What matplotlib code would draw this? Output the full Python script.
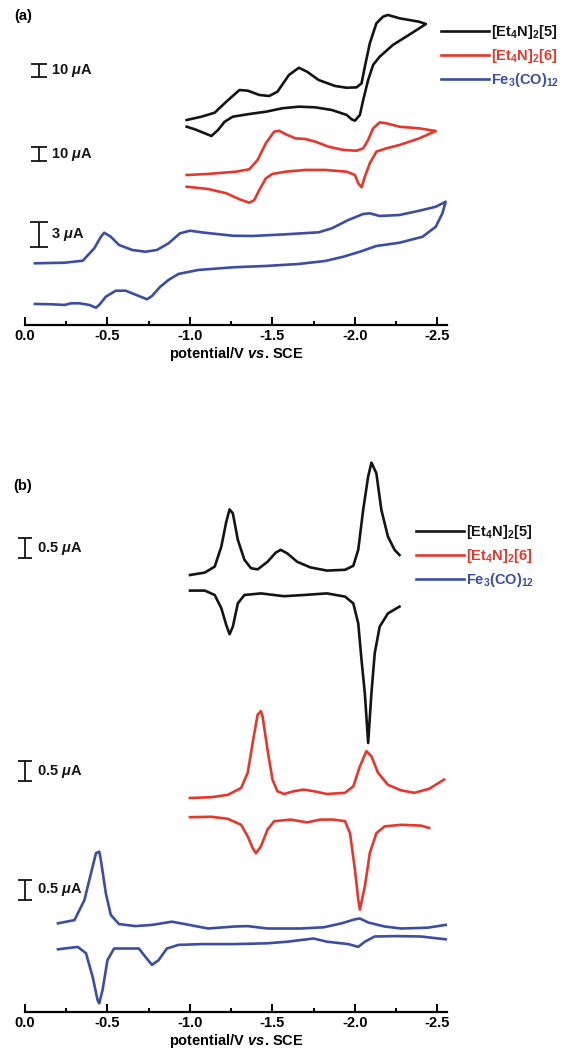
import matplotlib
matplotlib.use("Agg")
import matplotlib.pyplot as plt
from matplotlib.ticker import MultipleLocator, FuncFormatter

plt.rcParams['font.family'] = ['Liberation Sans', 'DejaVu Sans']
plt.rcParams['font.weight'] = 'bold'
plt.rcParams['axes.labelweight'] = 'bold'
plt.rcParams['mathtext.fontset'] = 'custom'
plt.rcParams['mathtext.rm'] = 'Liberation Sans:bold'
plt.rcParams['mathtext.it'] = 'Liberation Sans:italic:bold'
plt.rcParams['mathtext.bf'] = 'Liberation Sans:bold'
plt.rcParams['axes.unicode_minus'] = False

# ---- (a) cyclic voltammograms: potential (V vs SCE), current (uA)
a5_E = [-0.98, -1.07, -1.15, -1.22, -1.30, -1.35, -1.42, -1.48, -1.53, -1.60, -1.66, -1.71, -1.78,
        -1.88, -1.95, -2.01, -2.04, -2.06, -2.09, -2.13, -2.17, -2.20, -2.27, -2.39, -2.43,
        -2.39, -2.31, -2.23, -2.15, -2.11, -2.08, -2.05, -2.03, -2.00, -1.98, -1.95, -1.86,
        -1.76, -1.66, -1.56, -1.46, -1.36, -1.26, -1.21, -1.17, -1.13, -1.09, -1.03, -0.98]
a5_I = [0, 2.5, 5.5, 13.7, 22.5, 22.0, 18.8, 18.0, 21.2, 33.8, 39.2, 36.2, 30.0,
        25.5, 24.2, 24.5, 27.5, 40.0, 57.5, 72.5, 77.5, 78.8, 76.3, 73.7, 72.0,
        68.8, 62.5, 56.3, 47.5, 41.3, 30.0, 15.0, 3.8, -0.5, 0.5, 3.8, 7.5,
        9.5, 10.0, 8.8, 6.2, 4.5, 2.5, -1.3, -7.5, -12.0, -10.0, -7.0, -5.0]

a6_E = [-0.98, -1.11, -1.28, -1.36, -1.41, -1.46, -1.51, -1.54, -1.59, -1.64, -1.70, -1.76,
        -1.84, -1.93, -2.01, -2.05, -2.08, -2.11, -2.15, -2.19, -2.27, -2.39, -2.49,
        -2.39, -2.27, -2.19, -2.13, -2.09, -2.06, -2.04, -2.02, -2.00, -1.95, -1.82,
        -1.70, -1.58, -1.50, -1.46, -1.42, -1.39, -1.36, -1.30, -1.22, -1.11, -0.98]
a6_I = [0, 0.8, 2.5, 4.3, 11.3, 23.8, 32.5, 33.2, 30.0, 27.5, 27.0, 25.0,
        21.2, 18.8, 18.2, 20.0, 26.3, 35.0, 39.5, 38.8, 36.2, 35.0, 33.0,
        27.5, 22.5, 20.0, 17.5, 8.8, -1.3, -9.2, -6.2, 0, 2.5, 3.8,
        3.8, 2.5, 0.8, -2.5, -11.3, -18.8, -20.8, -18.2, -13.7, -10.5, -8.8]

aFe_E = [-0.06, -0.24, -0.35, -0.42, -0.46, -0.48, -0.52, -0.57, -0.65, -0.73, -0.80, -0.87,
         -0.94, -1.00, -1.09, -1.26, -1.38, -1.58, -1.78, -1.86, -1.96, -2.05, -2.09, -2.15,
         -2.27, -2.39, -2.49, -2.55,
         -2.53, -2.49, -2.41, -2.27, -2.13, -2.03, -1.93, -1.82, -1.66, -1.46, -1.26, -1.05,
         -0.93, -0.87, -0.82, -0.77, -0.74, -0.69, -0.61, -0.55, -0.49, -0.45, -0.43, -0.39,
         -0.33, -0.28, -0.24, -0.16, -0.06]
aFe_I = [0, 0.07, 0.31, 1.80, 3.19, 3.67, 3.19, 2.20, 1.60, 1.39, 1.60, 2.40,
         3.60, 3.91, 3.67, 3.31, 3.28, 3.48, 3.72, 4.20, 5.20, 5.92, 6.00, 5.68,
         5.80, 6.31, 6.79, 7.39,
         6.00, 4.39, 3.19, 2.47, 2.08, 1.39, 0.79, 0.28, -0.08, -0.32, -0.48, -0.80,
         -1.28, -2.00, -2.81, -3.92, -4.32, -3.92, -3.29, -3.29, -4.01, -5.00, -5.33, -5.00,
         -4.80, -4.80, -5.00, -4.92, -4.88]

# ---- (b) differential pulse voltammograms, forward and reverse sweeps
b5_fwd_E = [-1.00, -1.09, -1.15, -1.19, -1.22, -1.24, -1.26, -1.29, -1.33, -1.37, -1.41, -1.47,
            -1.52, -1.55, -1.59, -1.65, -1.73, -1.83, -1.94, -1.99, -2.02, -2.05, -2.08, -2.10,
            -2.13, -2.16, -2.20, -2.24, -2.27]
b5_fwd_I = [0, 0.06, 0.21, 0.71, 1.33, 1.64, 1.54, 0.88, 0.38, 0.17, 0.14, 0.33,
            0.56, 0.63, 0.54, 0.33, 0.19, 0.11, 0.13, 0.23, 0.63, 1.63, 2.46, 2.81,
            2.54, 1.63, 0.96, 0.63, 0.50]
b5_rev_E = [-1.00, -1.09, -1.15, -1.19, -1.22, -1.24, -1.26, -1.29, -1.33, -1.43, -1.57, -1.69,
            -1.83, -1.94, -1.99, -2.02, -2.04, -2.06, -2.08, -2.10, -2.12, -2.15, -2.20, -2.27]
b5_rev_I = [-0.39, -0.39, -0.50, -0.83, -1.25, -1.48, -1.29, -0.71, -0.50, -0.46, -0.53, -0.50,
            -0.46, -0.54, -0.71, -1.21, -2.13, -2.96, -4.20, -2.95, -1.95, -1.29, -0.96, -0.79]

b6_fwd_E = [-1.00, -1.13, -1.23, -1.31, -1.35, -1.38, -1.41, -1.43, -1.44, -1.47, -1.50, -1.53,
            -1.57, -1.63, -1.69, -1.75, -1.83, -1.94, -1.99, -2.03, -2.06, -2.07, -2.10, -2.14,
            -2.20, -2.28, -2.36, -2.45, -2.54]
b6_fwd_I = [0, 0.02, 0.08, 0.25, 0.63, 1.38, 2.08, 2.17, 2.04, 1.21, 0.46, 0.17,
            0.10, 0.17, 0.21, 0.17, 0.10, 0.13, 0.29, 0.79, 1.08, 1.17, 1.04, 0.63,
            0.33, 0.19, 0.13, 0.23, 0.46]
b6_rev_E = [-1.00, -1.13, -1.23, -1.31, -1.35, -1.38, -1.40, -1.43, -1.47, -1.51, -1.61, -1.71,
            -1.79, -1.87, -1.94, -1.97, -2.00, -2.02, -2.03, -2.06, -2.09, -2.13, -2.18, -2.28,
            -2.40, -2.45]
b6_rev_I = [-0.48, -0.47, -0.52, -0.67, -0.96, -1.25, -1.38, -1.21, -0.79, -0.58, -0.54, -0.61,
            -0.54, -0.54, -0.58, -0.88, -1.79, -2.54, -2.79, -2.21, -1.38, -0.88, -0.71, -0.67,
            -0.69, -0.75]

bFe_fwd_E = [-0.20, -0.30, -0.36, -0.40, -0.43, -0.45, -0.46, -0.49, -0.52, -0.57, -0.67, -0.77,
             -0.89, -0.97, -1.11, -1.27, -1.35, -1.47, -1.67, -1.81, -1.92, -2.00, -2.03, -2.08,
             -2.18, -2.28, -2.44, -2.55]
bFe_fwd_I = [0, 0.08, 0.58, 1.25, 1.75, 1.79, 1.58, 0.75, 0.21, -0.02, -0.07, -0.04,
             0.04, -0.02, -0.13, -0.08, -0.07, -0.13, -0.13, -0.10, 0, 0.10, 0.12, 0.02,
             -0.08, -0.13, -0.11, -0.04]
bFe_rev_E = [-0.20, -0.32, -0.37, -0.41, -0.44, -0.45, -0.47, -0.50, -0.54, -0.63, -0.69, -0.73,
             -0.77, -0.81, -0.86, -0.93, -1.07, -1.27, -1.47, -1.59, -1.75, -1.83, -1.96, -2.02,
             -2.06, -2.12, -2.24, -2.40, -2.55]
bFe_rev_I = [-0.65, -0.59, -0.75, -1.34, -1.92, -2.00, -1.67, -0.92, -0.63, -0.63, -0.63, -0.84,
             -1.04, -0.92, -0.63, -0.54, -0.52, -0.52, -0.50, -0.46, -0.38, -0.46, -0.52, -0.59,
             -0.46, -0.33, -0.32, -0.33, -0.40]

labels = ['[Et$_4$N]$_2$[5]', '[Et$_4$N]$_2$[6]', 'Fe$_3$(CO)$_{12}$']
colors = ['#141414', '#e3382b', '#3c4ea2']

W, H = 572, 1058
fig = plt.figure(figsize=(W / 100, H / 100), dpi=100)
fig.patch.set_facecolor('white')
LW = 1.9


def setup(ax, ytop):
    ax.set_xlim(0.0, -2.558)
    ax.set_ylim(0, ytop)
    for s in ['top', 'left', 'right']:
        ax.spines[s].set_visible(False)
    ax.spines['bottom'].set_linewidth(1.6)
    ax.set_yticks([])
    ax.xaxis.set_major_locator(MultipleLocator(0.5))
    ax.xaxis.set_minor_locator(MultipleLocator(0.25))
    ax.xaxis.set_major_formatter(FuncFormatter(lambda v, p: '0.0' if abs(v) < 1e-9 else '%.1f' % v))
    ax.tick_params(axis='x', which='major', direction='in', length=5.5, width=1.4,
                   labelsize=10.5, pad=3)
    ax.tick_params(axis='x', which='minor', direction='in', length=3, width=1.4)
    for t in ax.get_xticklabels():
        t.set_fontweight('bold')
    ax.set_xlabel('potential/V $vs$. SCE', fontsize=10.5, labelpad=1, fontweight='bold')
    ax.patch.set_alpha(0)


def scalebar(ax, x0, y0, h, hw, text, tx):
    kw = dict(color='#141414', lw=1.3, clip_on=False, solid_capstyle='butt')
    ax.plot([x0, x0], [y0, y0 + h], **kw)
    ax.plot([x0 - hw, x0 + hw], [y0, y0], **kw)
    ax.plot([x0 - hw, x0 + hw], [y0 + h, y0 + h], **kw)
    ax.text(tx, y0 + h / 2, text, fontsize=10.5, va='center', ha='left', color='#141414')


# panel (a): y units are pixels above the axis line
axa = fig.add_axes([25 / W, 1 - 325 / H, 422 / W, 325 / H])
setup(axa, 325)
a_off = [205, 150, 61.7]      # baseline of each trace
a_scl = [1.333, 1.333, 8.33]  # pixels per uA for each trace
lines_a = []
for E, I, off, sc, c, lab in zip([a5_E, a6_E, aFe_E], [a5_I, a6_I, aFe_I], a_off, a_scl, colors, labels):
    ln, = axa.plot(E, [off + v * sc for v in I], color=c, lw=LW, label=lab,
                   solid_joinstyle='round', clip_on=False)
    lines_a.append(ln)

scalebar(axa, -0.085, 247.7, 10 * 1.333, 0.05, '10 $\\mu$A', -0.16)
scalebar(axa, -0.085, 164.3, 10 * 1.333, 0.05, '10 $\\mu$A', -0.16)
scalebar(axa, -0.085, 78.0, 3 * 8.33, 0.055, '3 $\\mu$A', -0.16)

axa.legend(handles=lines_a, loc='upper left', bbox_to_anchor=(441 / W, 1 - 23 / H),
           bbox_transform=fig.transFigure, frameon=False, fontsize=10.5,
           handlelength=3.3, handletextpad=0.1, labelspacing=0.42, borderpad=0,
           borderaxespad=0, labelcolor='linecolor')

# panel (b)
axb = fig.add_axes([25 / W, 1 - 1012 / H, 422 / W, 562 / H])
setup(axb, 562)
b_off = [437, 214, 88.7]
b_scl = 40.0  # pixels per uA
lines_b = []
for (Ef, If, Er, Ir), off, c, lab in zip(
        [(b5_fwd_E, b5_fwd_I, b5_rev_E, b5_rev_I),
         (b6_fwd_E, b6_fwd_I, b6_rev_E, b6_rev_I),
         (bFe_fwd_E, bFe_fwd_I, bFe_rev_E, bFe_rev_I)], b_off, colors, labels):
    ln, = axb.plot(Ef, [off + v * b_scl for v in If], color=c, lw=LW, label=lab,
                   solid_joinstyle='round', clip_on=False)
    axb.plot(Er, [off + v * b_scl for v in Ir], color=c, lw=LW,
             solid_joinstyle='round', clip_on=False)
    lines_b.append(ln)

scalebar(axb, 0.0, 454, 0.5 * b_scl, 0.042, '0.5 $\\mu$A', -0.07)
scalebar(axb, 0.0, 231, 0.5 * b_scl, 0.042, '0.5 $\\mu$A', -0.07)
scalebar(axb, 0.0, 112, 0.5 * b_scl, 0.042, '0.5 $\\mu$A', -0.07)

axb.legend(handles=lines_b, loc='upper left', bbox_to_anchor=(416 / W, 1 - 523 / H),
           bbox_transform=fig.transFigure, frameon=False, fontsize=10.5,
           handlelength=3.3, handletextpad=0.1, labelspacing=0.42, borderpad=0,
           borderaxespad=0, labelcolor='linecolor')

fig.text(14 / W, 1 - 16 / H, '(a)', fontsize=10.5, va='center', ha='left')
fig.text(13 / W, 1 - 486 / H, '(b)', fontsize=10.5, va='center', ha='left')

fig.savefig('out.png', dpi=100, facecolor='white')
